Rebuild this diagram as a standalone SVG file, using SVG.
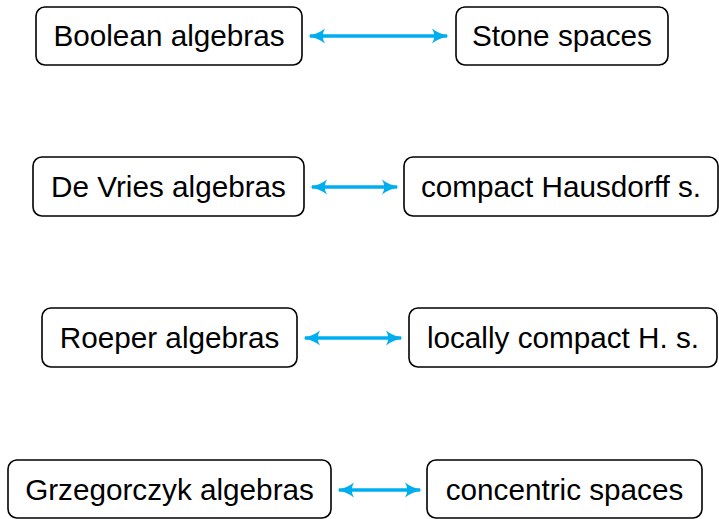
<svg xmlns="http://www.w3.org/2000/svg" width="719" height="519" viewBox="0 0 719 519">
<style>
.box{fill:#fff;stroke:#000;stroke-width:1.6}
.t{font-family:"Liberation Sans",Arial,sans-serif;font-size:29.7px;fill:#000;text-anchor:middle}
.c{stroke:#00AEEF;stroke-width:3.4;fill:none}
</style>
<defs>
<marker id="ah" viewBox="0 0 17 16" refX="15" refY="8" markerWidth="17" markerHeight="16" markerUnits="userSpaceOnUse" orient="auto-start-reverse">
<path d="M0,0.5 Q7,6 17,8 Q7,10 0,15.5 Q4.5,8 0,0.5 Z" fill="#00AEEF"/>
</marker>
</defs>
<g id="n1"><rect class="box" x="36" y="7" width="266" height="58" rx="9"/><text class="t" x="169" y="46">Boolean algebras</text></g>
<g id="n2"><rect class="box" x="456" y="7" width="212" height="58" rx="9"/><text class="t" x="562" y="46">Stone spaces</text></g>
<g id="n3"><rect class="box" x="33" y="157" width="271" height="59" rx="9"/><text class="t" x="168.5" y="197">De Vries algebras</text></g>
<g id="n4"><rect class="box" x="404" y="157" width="314" height="59" rx="9"/><text class="t" x="561" y="197">compact Hausdorff s.</text></g>
<g id="n5"><rect class="box" x="42" y="308" width="255" height="59" rx="9"/><text class="t" x="169.5" y="348">Roeper algebras</text></g>
<g id="n6"><rect class="box" x="409" y="308" width="308" height="59" rx="9"/><text class="t" x="563" y="348">locally compact H. s.</text></g>
<g id="n7"><rect class="box" x="8" y="460" width="323" height="58" rx="9"/><text class="t" x="169.5" y="500">Grzegorczyk algebras</text></g>
<g id="n8"><rect class="box" x="427" y="460" width="275" height="58" rx="9"/><text class="t" x="564.5" y="500">concentric spaces</text></g>
<g id="connectors">
<line class="c" x1="310" y1="36" x2="447" y2="36" marker-start="url(#ah)" marker-end="url(#ah)"/>
<line class="c" x1="312" y1="187" x2="397" y2="187" marker-start="url(#ah)" marker-end="url(#ah)"/>
<line class="c" x1="305" y1="338" x2="401" y2="338" marker-start="url(#ah)" marker-end="url(#ah)"/>
<line class="c" x1="339" y1="490" x2="420" y2="490" marker-start="url(#ah)" marker-end="url(#ah)"/>
</g>
</svg>
